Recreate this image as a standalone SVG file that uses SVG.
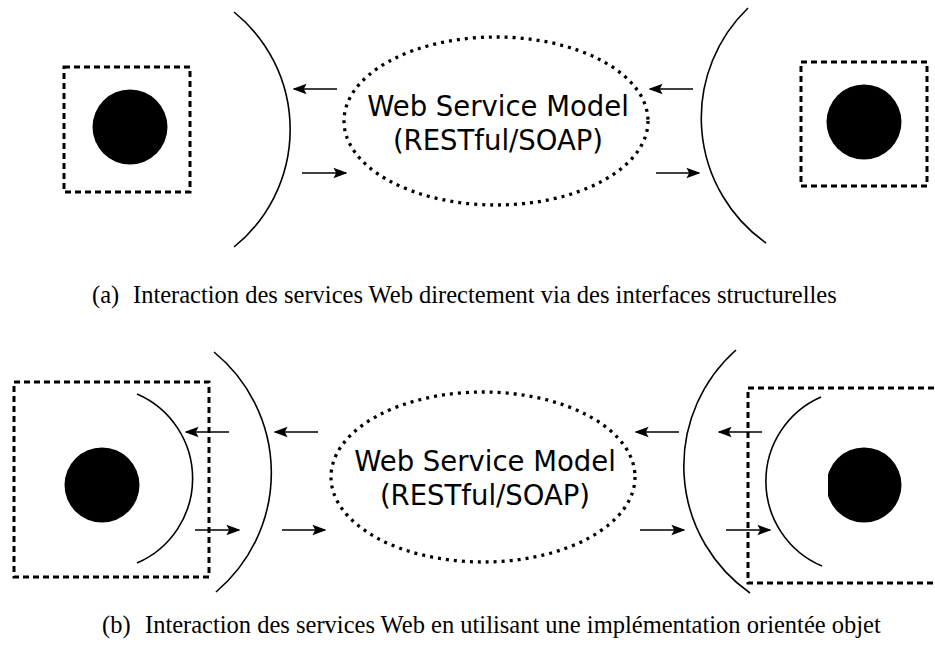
<svg xmlns="http://www.w3.org/2000/svg" width="935" height="658" viewBox="0 0 935 658">
<style>
.arc{fill:none;stroke:#000;stroke-width:1.6}
.box{fill:none;stroke:#000;stroke-width:3;stroke-dasharray:6 4}
.ell{fill:none;stroke:#000;stroke-width:3.3;stroke-dasharray:3 5}
.dot{fill:#000}
.arr{stroke:#000;stroke-width:1.6;fill:none;marker-end:url(#ah)}
.lbl{font-family:"DejaVu Sans",sans-serif;font-size:27.5px;text-anchor:middle;fill:#000}
.cap{font-family:"Liberation Serif",serif;font-size:24.5px;fill:#000}
</style>
<defs>
<marker id="ah" viewBox="0 0 10 10" refX="9" refY="5" markerWidth="14" markerHeight="14" markerUnits="userSpaceOnUse" orient="auto">
<path d="M0,1.3 L10,5 L0,8.7 L2,5 Z" fill="#000"/>
</marker>
<clipPath id="clipR"><rect x="828" y="400" width="107" height="170"/></clipPath>
</defs>
<rect width="935" height="658" fill="#fff"/>

<!-- (a) -->
<g id="a-left-node">
<rect class="box" x="64" y="67" width="126" height="125"/>
<circle class="dot" cx="130" cy="127" r="37.5"/>
</g>
<g id="a-left-interface"><path class="arc" d="M234,12 A151,151 0 0 1 234,247"/></g>
<g id="a-model">
<ellipse class="ell" cx="496" cy="121" rx="152" ry="84"/>
<text class="lbl" x="498" y="116">Web Service Model</text>
<text class="lbl" x="498" y="150">(RESTful/SOAP)</text>
</g>
<g id="a-right-interface"><path class="arc" d="M748,8 A153,153 0 0 0 766,243"/></g>
<g id="a-right-node">
<rect class="box" x="801" y="62" width="126" height="124"/>
<circle class="dot" cx="864" cy="122" r="37.5"/>
</g>
<g id="a-connectors">
<line class="arr" x1="337" y1="89" x2="294" y2="89"/>
<line class="arr" x1="302" y1="173" x2="346" y2="173"/>
<line class="arr" x1="693" y1="89" x2="650" y2="89"/>
<line class="arr" x1="656" y1="173" x2="699" y2="173"/>
</g>
<text class="cap" y="303"><tspan x="92">(a)</tspan><tspan x="133">Interaction des services Web directement via des interfaces structurelles</tspan></text>

<!-- (b) -->
<g id="b-left-node">
<rect class="box" x="14" y="382" width="195" height="195"/>
<circle class="dot" cx="102" cy="485" r="37.5"/>
<path class="arc" d="M137,394 A92,92 0 0 1 137,563"/>
</g>
<g id="b-left-interface"><path class="arc" d="M214,352 A156,156 0 0 1 216,592"/></g>
<g id="b-model">
<ellipse class="ell" cx="483" cy="477" rx="152" ry="85"/>
<text class="lbl" x="485" y="471">Web Service Model</text>
<text class="lbl" x="485" y="505">(RESTful/SOAP)</text>
</g>
<g id="b-right-interface"><path class="arc" d="M736,350 A155,155 0 0 0 750,593"/></g>
<g id="b-right-node">
<rect class="box" x="748" y="388" width="200" height="195"/>
<circle class="dot" cx="864" cy="485" r="37.5" clip-path="url(#clipR)"/>
<path class="arc" d="M821,397 A92,92 0 0 0 822,566"/>
</g>
<g id="b-connectors">
<line class="arr" x1="229" y1="432" x2="186" y2="432"/>
<line class="arr" x1="318" y1="432" x2="275" y2="432"/>
<line class="arr" x1="195" y1="530" x2="239" y2="530"/>
<line class="arr" x1="282" y1="530" x2="325" y2="530"/>
<line class="arr" x1="679" y1="432" x2="636" y2="432"/>
<line class="arr" x1="762" y1="432" x2="719" y2="432"/>
<line class="arr" x1="640" y1="530" x2="684" y2="530"/>
<line class="arr" x1="726" y1="530" x2="770" y2="530"/>
</g>
<text class="cap" y="633"><tspan x="102">(b)</tspan><tspan x="145">Interaction des services Web en utilisant une implémentation orientée objet</tspan></text>
</svg>
